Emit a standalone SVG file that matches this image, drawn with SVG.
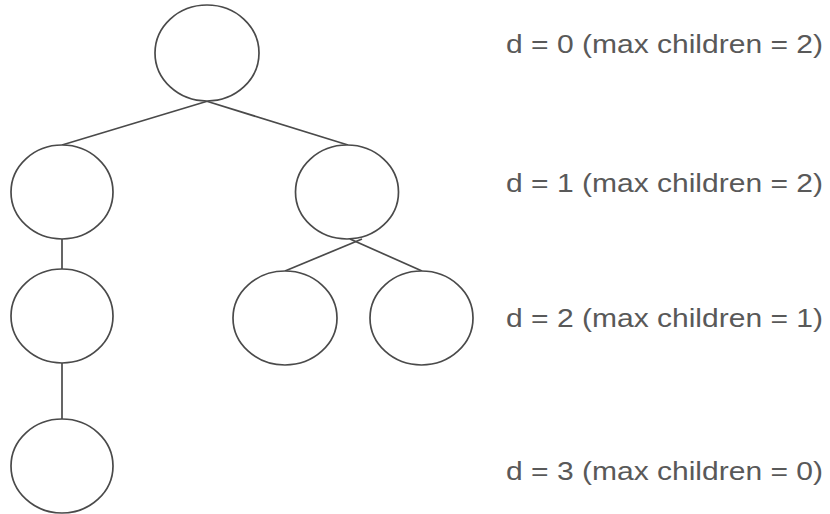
<svg xmlns="http://www.w3.org/2000/svg" width="830" height="514" viewBox="0 0 830 514">
<style>
.n{fill:#fff;stroke:#4a4a4a;stroke-width:1.7}
.e{stroke:#4a4a4a;stroke-width:1.7;fill:none}
.t{font-family:"Liberation Sans",Arial,sans-serif;font-size:26.5px;fill:#595959}
</style>
<rect width="830" height="514" fill="#fff"/>
<g id="edges">
<line class="e" x1="208" y1="101" x2="62" y2="145"/>
<line class="e" x1="206" y1="101" x2="348" y2="145"/>
<line class="e" x1="62" y1="239" x2="62" y2="269"/>
<line class="e" x1="62" y1="363" x2="62" y2="419"/>
<line class="e" x1="362" y1="239" x2="285" y2="271"/>
<line class="e" x1="350" y1="239" x2="422" y2="271"/>
</g>
<g id="n0"><ellipse class="n" cx="207" cy="53" rx="52" ry="48"/></g>
<g id="n1"><ellipse class="n" cx="62" cy="192" rx="51" ry="47"/></g>
<g id="n2"><ellipse class="n" cx="347" cy="192" rx="51.5" ry="47"/></g>
<g id="n3"><ellipse class="n" cx="62" cy="316" rx="51" ry="47"/></g>
<g id="n4"><ellipse class="n" cx="285" cy="318" rx="52" ry="47"/></g>
<g id="n5"><ellipse class="n" cx="421.5" cy="318" rx="51.5" ry="47"/></g>
<g id="n6"><ellipse class="n" cx="62" cy="466" rx="51" ry="47"/></g>
<g id="labels">
<text class="t" x="506" y="53" textLength="317" lengthAdjust="spacingAndGlyphs">d = 0 (max children = 2)</text>
<text class="t" x="506" y="192" textLength="317" lengthAdjust="spacingAndGlyphs">d = 1 (max children = 2)</text>
<text class="t" x="506" y="327" textLength="317" lengthAdjust="spacingAndGlyphs">d = 2 (max children = 1)</text>
<text class="t" x="506" y="480" textLength="317" lengthAdjust="spacingAndGlyphs">d = 3 (max children = 0)</text>
</g>
</svg>
